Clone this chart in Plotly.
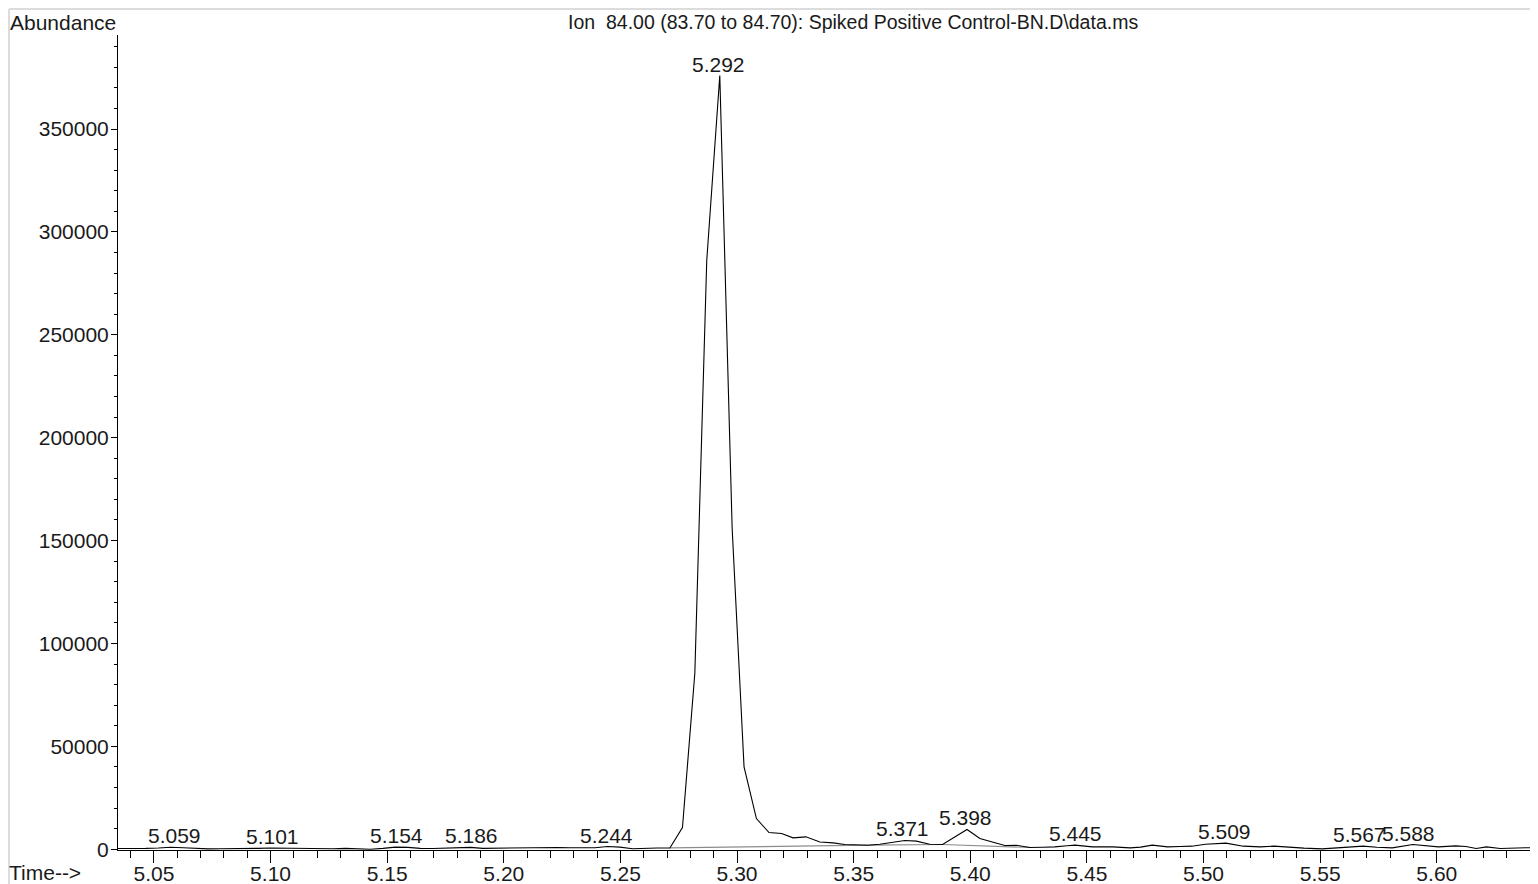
import plotly.graph_objects as go

# ---- data ----
times = [5.0305, 5.0358, 5.0412, 5.0465, 5.0519, 5.0572, 5.0626, 5.0679, 5.0733, 5.0786,
         5.0840, 5.0893, 5.0947, 5.1000, 5.1054, 5.1107, 5.1161, 5.1214, 5.1268, 5.1321,
         5.1375, 5.1428, 5.1482, 5.1535, 5.1589, 5.1642, 5.1696, 5.1749, 5.1803, 5.1856,
         5.1910, 5.1963, 5.2017, 5.2070, 5.2124, 5.2177, 5.2231, 5.2284, 5.2338, 5.2391,
         5.2445, 5.2498, 5.2552, 5.2605, 5.2659, 5.2712, 5.2766, 5.2819, 5.2870, 5.2926,
         5.2979, 5.3030, 5.3083, 5.3137, 5.3191, 5.3240, 5.3295, 5.3355, 5.3412, 5.3462,
         5.3512, 5.3562, 5.3612, 5.3669, 5.3719, 5.3769, 5.3826, 5.3881, 5.3933, 5.3986,
         5.4041, 5.4098, 5.4148, 5.4198, 5.4255, 5.4311, 5.4362, 5.4415, 5.4449, 5.4523,
         5.4575, 5.4611, 5.4685, 5.4730, 5.4780, 5.4846, 5.4900, 5.4949, 5.5008, 5.5060,
         5.5096, 5.5170, 5.5243, 5.5302, 5.5375, 5.5430, 5.5508, 5.5596, 5.5684, 5.5743,
         5.5809, 5.5897, 5.5950, 5.6007, 5.6081, 5.6125, 5.6169, 5.6213, 5.6272, 5.6330,
         5.6380, 5.6419, 5.6470]
abundance = [300, 300, 200, 400, 600, 950, 700, 300, 150, 200,
             150, 300, 400, 550, 500, 300, 100, 0, 200, 400,
             100, 0, 400, 1000, 900, 400, 300, 400, 500, 900,
             400, 500, 600, 700, 700, 800, 800, 700, 800, 700,
             1300, 1000, 200, 500, 600, 600, 10500, 85500, 286000, 376000,
             156000, 40000, 14900, 8100, 7600, 5500, 6000, 3500, 3060, 2280,
             1940, 1940, 2430, 3550, 4230, 3890, 2430, 2280, 5800, 9570,
             5200, 3400, 1800, 1940, 830, 970, 1130, 1700, 1950, 1130,
             1100, 1130, 650, 1000, 1950, 1130, 1300, 1460, 2430, 2800,
             2920, 1460, 1130, 1460, 810, 500, 160, 650, 1460, 970,
             650, 2270, 1800, 1130, 1620, 1300, 320, 1130, 320, 650,
             700, 650, 650]

peak_times = [5.059, 5.101, 5.154, 5.186, 5.244, 5.292, 5.371, 5.398, 5.445, 5.509, 5.567, 5.588]
peak_heights = [950, 550, 1000, 900, 1300, 376000, 4230, 9570, 1950, 2920, 1460, 2270]
peak_labels = ["5.059", "5.101", "5.154", "5.186", "5.244", "5.292", "5.371", "5.398",
               "5.445", "5.509", "5.567", "5.588"]

# integration baselines (start time, start value, end time, end value)
base_t0 = [5.2712, 5.3562, 5.3881]
base_y0 = [600, 1940, 2280]
base_t1 = [5.3562, 5.3881, 5.4255]
base_y1 = [1940, 2280, 830]

title_text = "Ion  84.00 (83.70 to 84.70): Spiked Positive Control-BN.D\\data.ms"

FONT = "Liberation Sans, Arial, sans-serif"
TXT = "#1a1a1a"
FS = 21

fig = go.Figure()

bx, by = [], []
for a, b, c, d in zip(base_t0, base_y0, base_t1, base_y1):
    bx += [a, c, None]
    by += [b, d, None]
fig.add_trace(go.Scatter(x=bx, y=by, mode="lines",
                         line=dict(color="#8c8c8c", width=1.2), hoverinfo="skip",
                         showlegend=False))

fig.add_trace(go.Scatter(x=times, y=abundance, mode="lines",
                         line=dict(color="#000000", width=1.1), showlegend=False))

for t, h, lab in zip(peak_times, peak_heights, peak_labels):
    fig.add_annotation(x=t, y=h, text=lab, showarrow=False, xanchor="center",
                       yanchor="bottom", yshift=-2,
                       font=dict(family=FONT, size=FS, color=TXT))

fig.add_annotation(xref="paper", yref="paper", x=0.519, y=1.0, yshift=13,
                   text=title_text, showarrow=False, xanchor="center", yanchor="middle",
                   font=dict(family=FONT, size=19.5, color=TXT))
fig.add_annotation(xref="paper", yref="paper", x=-0.0776, y=1.0, yshift=13,
                   text="Abundance", showarrow=False, xanchor="left", yanchor="middle",
                   font=dict(family=FONT, size=FS, color=TXT))
fig.add_annotation(xref="paper", yref="paper", x=-0.0776, y=0, yshift=-22,
                   text="Time-->", showarrow=False, xanchor="left", yanchor="middle",
                   borderpad=0,
                   font=dict(family=FONT, size=FS, color=TXT))

# light frame lines around the picture
fig.add_shape(type="line", xref="paper", yref="paper", x0=-0.0769, x1=1.01,
              y0=1.0319, y1=1.0319, line=dict(color="#dcdcdc", width=2))
fig.add_shape(type="line", xref="paper", yref="paper", x0=-0.0769, x1=-0.0769,
              y0=-0.05, y1=1.0319, line=dict(color="#dcdcdc", width=2))

fig.update_xaxes(range=[5.0346, 5.6421], showline=True, linecolor="#000000", linewidth=1,
                 ticks="outside", ticklen=12, tickwidth=1, tickcolor="#000000",
                 tick0=5.0, dtick=0.05, tickformat=".2f", showgrid=False, zeroline=False,
                 automargin=False, ticklabelstandoff=-7,
                 tickfont=dict(family=FONT, size=FS, color=TXT),
                 minor=dict(dtick=0.01, tick0=5.0, ticks="outside", ticklen=7,
                            tickcolor="#000000", tickwidth=1, showgrid=False))
fig.update_yaxes(range=[-400, 395700], showline=True, linecolor="#000000", linewidth=1,
                 ticks="outside", ticklen=6, tickwidth=1, tickcolor="#000000",
                 tick0=0, dtick=50000, tickformat="d", showgrid=False, zeroline=False,
                 automargin=False, ticklabelstandoff=-2,
                 tickfont=dict(family=FONT, size=FS, color=TXT),
                 minor=dict(dtick=10000, tick0=0, ticks="outside", ticklen=3,
                            tickcolor="#000000", tickwidth=1, showgrid=False))

fig.update_layout(width=1530, height=876, margin=dict(l=110, r=3, t=27, b=34),
                  paper_bgcolor="white", plot_bgcolor="white", showlegend=False)

fig.write_html("out.html")
